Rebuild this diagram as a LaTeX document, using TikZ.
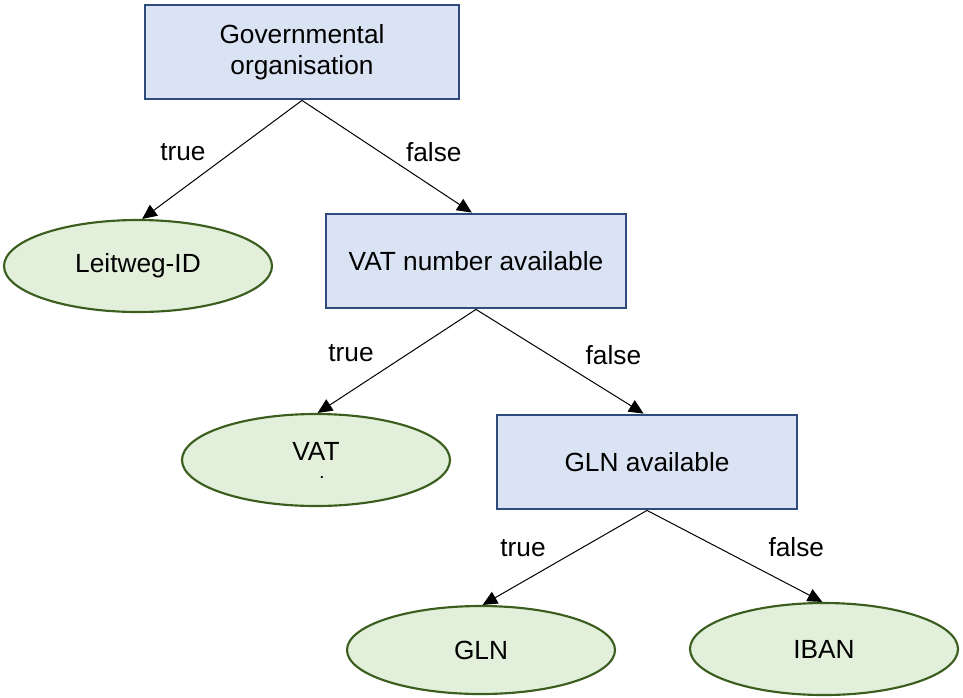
\documentclass[tikz,border=0pt]{standalone}
\usepackage{fontspec}
\setmainfont{Liberation Sans}
\usepackage{xcolor}
\usetikzlibrary{arrows.meta,positioning,shapes.geometric}
\definecolor{boxfill}{HTML}{DAE3F3}
\definecolor{boxline}{HTML}{2F4B7C}
\definecolor{leaffill}{HTML}{E2EFDA}
\definecolor{leafline}{HTML}{3B5E1E}

\begin{document}
\begin{tikzpicture}[x=0.75pt,y=-0.75pt,
		font=\fontsize{19.7}{23.5}\selectfont,
		decision/.style={draw=boxline,fill=boxfill,line width=1.6pt,minimum width=225pt,minimum height=71pt,align=center},
		leaf/.style={ellipse,draw=leafline,fill=leaffill,line width=1.6pt,minimum width=201pt,minimum height=69pt,align=center},
		branch/.style={-{Triangle[length=11pt,width=10pt]},line width=0.75pt},
		lbl/.style={midway,inner sep=0pt}]
		\useasboundingbox (0,0) rectangle (963,697);
		% questions
		\node[decision,minimum width=235pt] (gov) at (302,52) {Governmental\\organisation};
		\node[decision] (vatq) at (476,261) {VAT number available};
		\node[decision] (glnq) at (647,462) {GLN available};
		% results
		\node[leaf] (leitweg) at (138,266) {Leitweg-ID};
		\node[leaf] (vat) at (316,460) {VAT\\[-10pt]{\normalsize\bfseries\hspace*{0.9em}.}};
		\node[leaf,minimum height=66pt] (gln) at (481,650) {GLN};
		\node[leaf] (iban) at (824,649) {IBAN};
		% branches
		\draw[branch] (gov.south) -- node[lbl,left=12pt,yshift=6pt] {true} (leitweg.85);
		\draw[branch] (gov.south) -- node[lbl,right=14pt,yshift=3pt] {false} (vatq.95);
		\draw[branch] (vatq.south) -- node[lbl,left=17pt,yshift=6pt] {true} (vat.88);
		\draw[branch] (vatq.south) -- node[lbl,right=19pt,yshift=5pt] {false} (glnq.94);
		\draw[branch] (glnq.south) -- node[lbl,left=14pt,yshift=7pt] {true} (gln.88);
		\draw[branch] (glnq.south) -- node[lbl,right=25pt,yshift=7pt] {false} (iban.92);
\end{tikzpicture}
\end{document}
